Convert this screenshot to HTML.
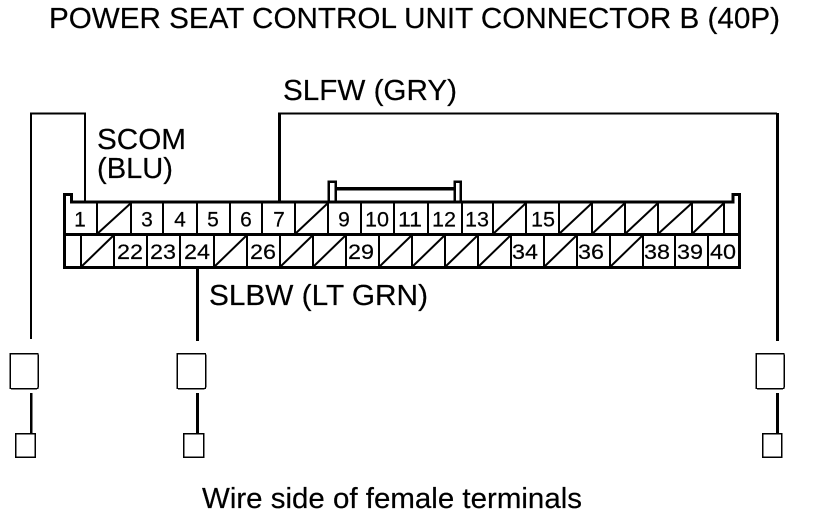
<!DOCTYPE html>
<html><head><meta charset="utf-8"><style>
html,body{margin:0;padding:0;background:#fff}
svg{display:block}
text{font-family:"Liberation Sans",sans-serif;fill:#000;stroke:#000;stroke-width:.2px}
.n{font-size:21px;text-anchor:middle}
.l{font-size:29px}
</style></head><body>
<svg width="816" height="516" viewBox="0 0 816 516" xmlns="http://www.w3.org/2000/svg" shape-rendering="crispEdges">
<text class="l" x="49" y="28" textLength="731" lengthAdjust="spacingAndGlyphs">POWER SEAT CONTROL UNIT CONNECTOR B (40P)</text>
<text class="l" x="283" y="100" textLength="174" lengthAdjust="spacingAndGlyphs">SLFW (GRY)</text>
<text class="l" x="97" y="149" textLength="89" lengthAdjust="spacingAndGlyphs">SCOM</text>
<text class="l" x="97" y="178" textLength="76" lengthAdjust="spacingAndGlyphs">(BLU)</text>
<text class="l" x="209" y="305" textLength="219" lengthAdjust="spacingAndGlyphs">SLBW (LT GRN)</text>
<text class="l" x="202" y="508" textLength="380" lengthAdjust="spacingAndGlyphs">Wire side of female terminals</text>

<g fill="none" stroke="#000">
<path d="M31 339V113.500H85V201" stroke-width="2"/>
<path d="M279 201V113.500H777" stroke-width="2"/>
<path d="M279.500 201V113" stroke-width="3"/>
<path d="M777.500 113V341" stroke-width="3"/>
<path d="M197.500 268V341" stroke-width="3"/>
<path d="M31 393V434" stroke-width="2.500"/>
<path d="M197.500 393V434M777.500 393V434" stroke-width="3"/>

<!-- connector outline -->
<path d="M64.500 267.500V194.500H71.500V202H733V194.500H739.500V267.500Z" stroke-width="3"/>
<path d="M66 234.500H739" stroke-width="3"/>

<!-- latch -->
<path d="M328.500 201V181.500H335.500V201M454.500 201V181.500H460.500V201" stroke-width="2.500"/>
<path d="M336 188.500H454" stroke-width="3.500"/>

<g stroke-width="2">
<path d="M97 203V234M131 203V234M163 203V234M197 203V234M230 203V234M262 203V234M295 203V234M328 203V234M361 203V234M394 203V234M428 203V234M462 203V234M493 203V234M526 203V234M559 203V234M592 203V234M625 203V234M658 203V234M692 203V234M724 203V234"/>
<path d="M81 235V267M114 235V267M147 235V267M180 235V267M214 235V267M247 235V267M280 235V267M313 235V267M346 235V267M379 235V267M412 235V267M445 235V267M478 235V267M511 235V267M544 235V267M577 235V267M610 235V267M643 235V267M675 235V267M708 235V267"/>
</g>
<g stroke-width="2" shape-rendering="auto">
<path d="M97 234L131 203M295 234L328 203M493 234L526 203M559 234L592 203M592 234L625 203M625 234L658 203M658 234L692 203M692 234L724 203"/>
<path d="M81 267L114 235M214 267L247 235M280 267L313 235M313 267L346 235M379 267L412 235M412 267L445 235M445 267L478 235M478 267L511 235M544 267L577 235M610 267L643 235"/>
</g>

<!-- terminals -->
<g stroke-width="1.500">
<rect x="10" y="353.500" width="28" height="35" rx="1"/>
<rect x="177" y="353.500" width="28.500" height="35" rx="1"/>
<rect x="756" y="353.500" width="28" height="35" rx="1"/>
<rect x="15.500" y="433.500" width="19.500" height="23.500"/>
<rect x="183.500" y="433.500" width="20" height="23.500"/>
<rect x="762.500" y="433.500" width="19" height="23.500"/>
</g>
</g>

<g class="nums">
<text class="n" x="80" y="226.500">1</text>
<text class="n" x="147" y="226.500">3</text>
<text class="n" x="180" y="226.500">4</text>
<text class="n" x="213" y="226.500">5</text>
<text class="n" x="246" y="226.500">6</text>
<text class="n" x="279" y="226.500">7</text>
<text class="n" x="344" y="226.500">9</text>
<text class="n" x="377" y="226.500" textLength="24" lengthAdjust="spacingAndGlyphs">10</text>
<text class="n" x="410" y="226.500" textLength="24" lengthAdjust="spacingAndGlyphs">11</text>
<text class="n" x="444" y="226.500" textLength="24" lengthAdjust="spacingAndGlyphs">12</text>
<text class="n" x="477" y="226.500" textLength="24" lengthAdjust="spacingAndGlyphs">13</text>
<text class="n" x="543" y="226.500" textLength="24" lengthAdjust="spacingAndGlyphs">15</text>
<text class="n" x="130" y="259" textLength="26" lengthAdjust="spacingAndGlyphs">22</text>
<text class="n" x="163" y="259" textLength="26" lengthAdjust="spacingAndGlyphs">23</text>
<text class="n" x="197" y="259" textLength="26" lengthAdjust="spacingAndGlyphs">24</text>
<text class="n" x="263" y="259" textLength="26" lengthAdjust="spacingAndGlyphs">26</text>
<text class="n" x="361" y="259" textLength="26" lengthAdjust="spacingAndGlyphs">29</text>
<text class="n" x="525" y="259" textLength="26" lengthAdjust="spacingAndGlyphs">34</text>
<text class="n" x="591" y="259" textLength="26" lengthAdjust="spacingAndGlyphs">36</text>
<text class="n" x="657" y="259" textLength="26" lengthAdjust="spacingAndGlyphs">38</text>
<text class="n" x="690" y="259" textLength="26" lengthAdjust="spacingAndGlyphs">39</text>
<text class="n" x="723" y="259" textLength="26" lengthAdjust="spacingAndGlyphs">40</text>
</g>
</svg>
</body></html>
